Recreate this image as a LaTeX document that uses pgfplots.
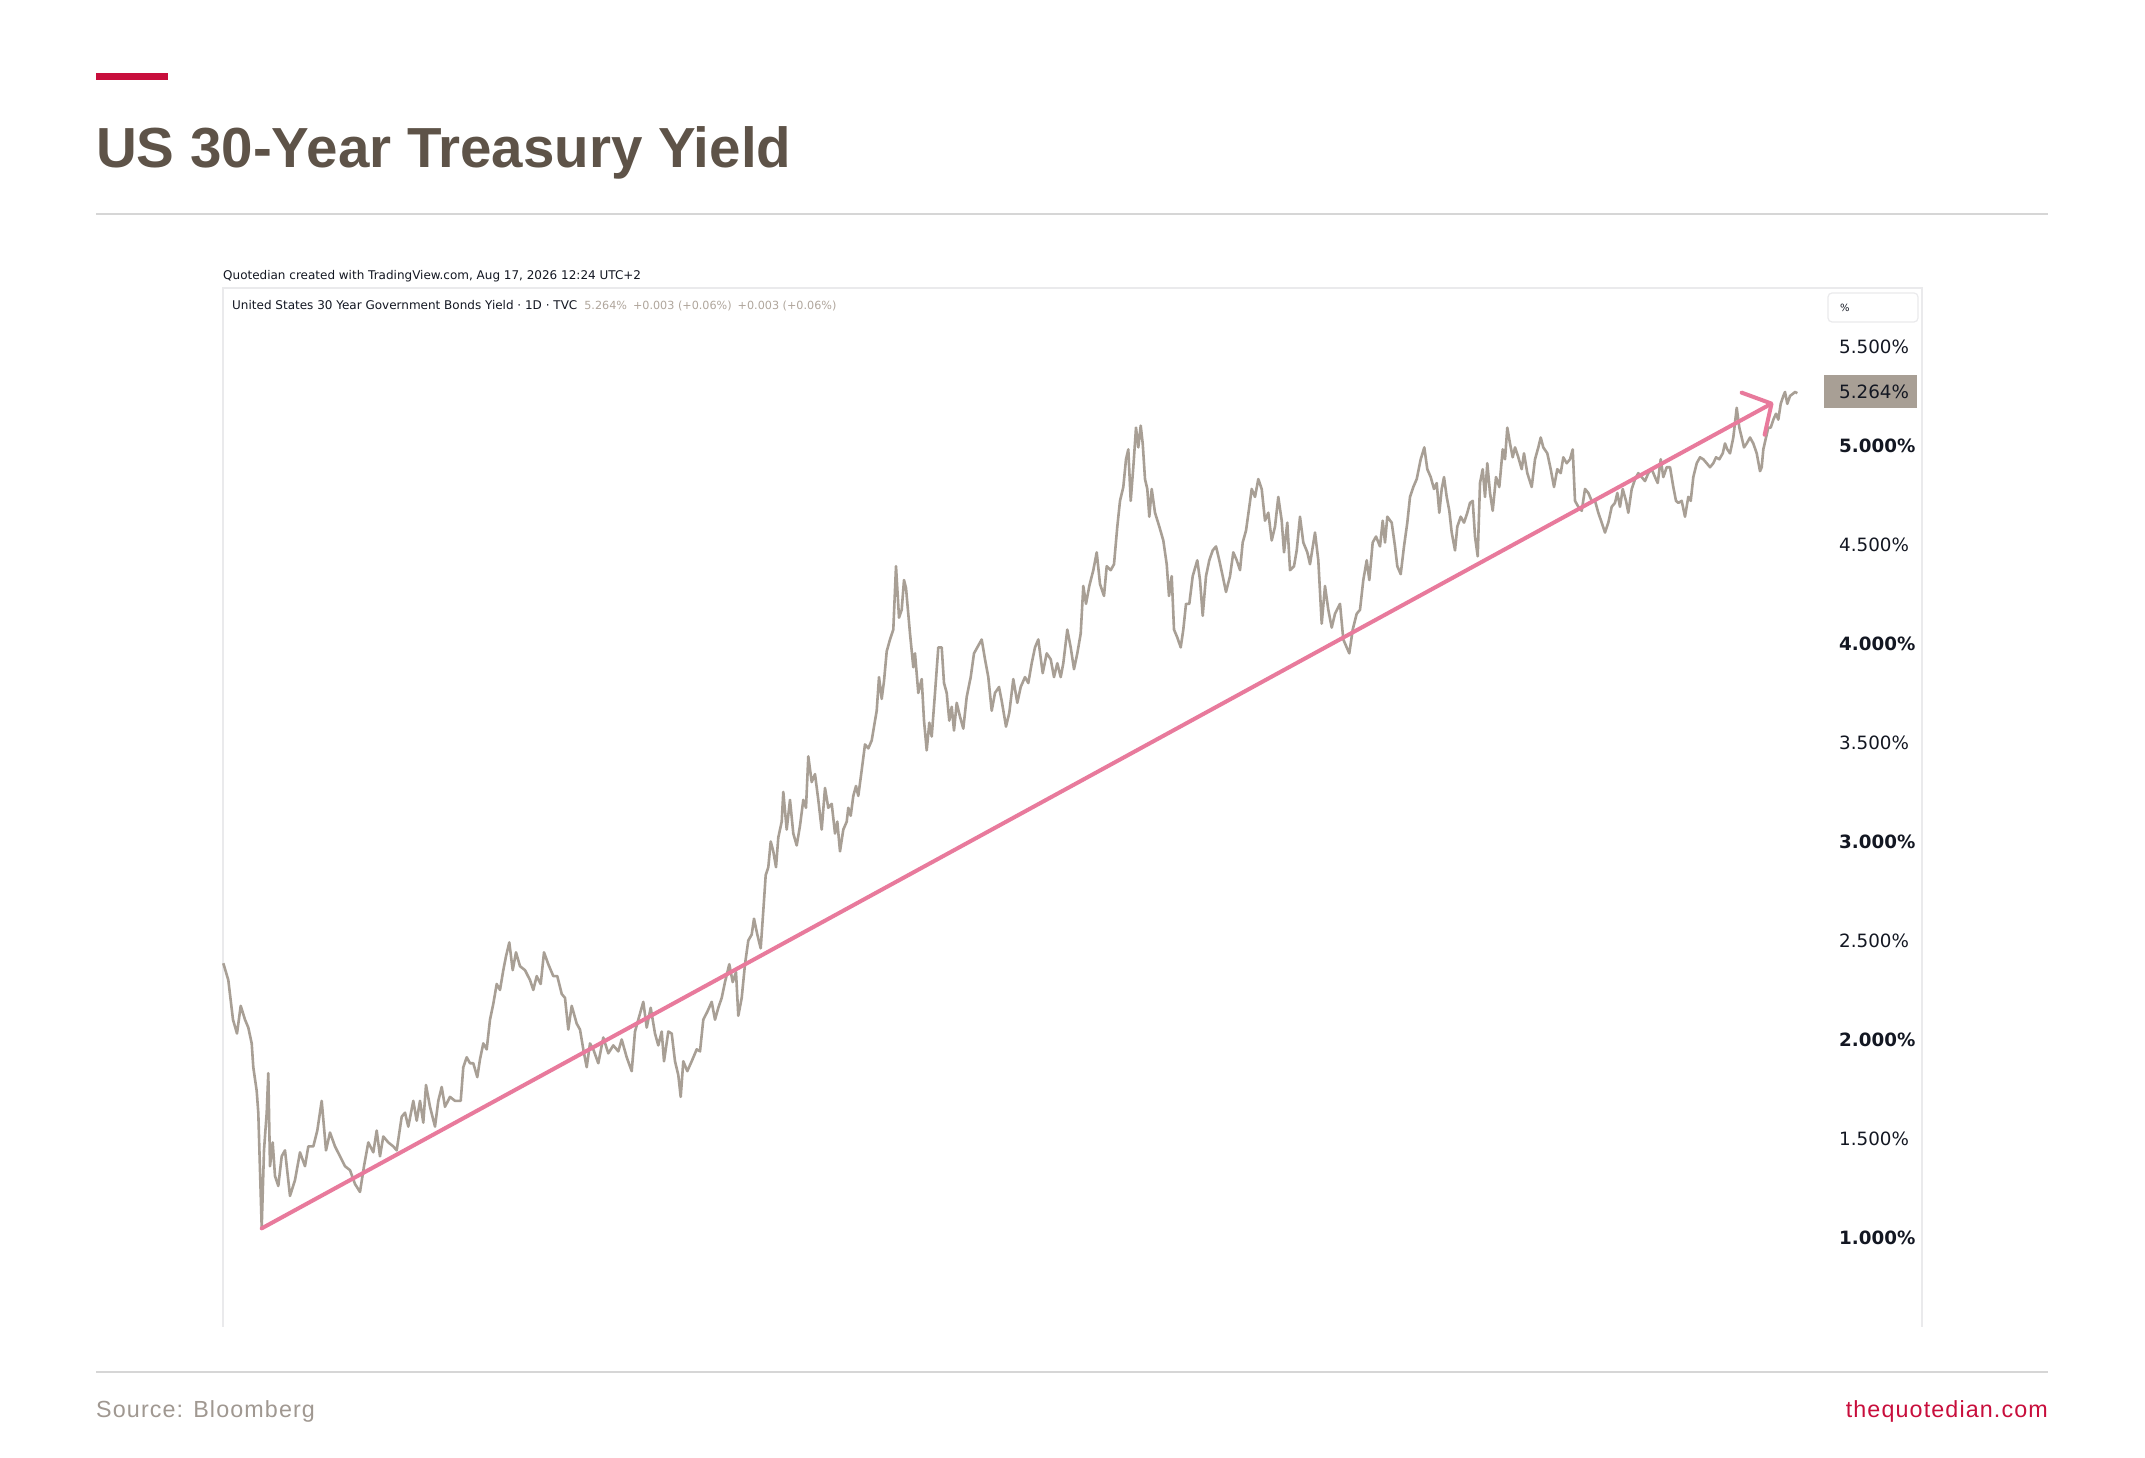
\documentclass[border=0pt]{standalone}
\usepackage{fontspec}
\setmainfont{DejaVu Sans}
\newfontfamily\libsans{Liberation Sans}
\newfontfamily\libsansls{Liberation Sans}[LetterSpace=4.8]
\usepackage{pgfplots}
\usepackage{pgfplotstable}
\pgfplotsset{compat=1.18}
\usetikzlibrary{arrows.meta}
\definecolor{pricec}{RGB}{168,159,149}
\definecolor{trendc}{RGB}{232,122,156}
\definecolor{titlec}{RGB}{94,83,72}
\definecolor{crimson}{RGB}{200,14,60}
\definecolor{rulec}{RGB}{214,214,214}
\definecolor{framec}{RGB}{234,234,236}
\definecolor{tvtext}{RGB}{19,23,34}
\definecolor{srcc}{RGB}{160,152,145}
\definecolor{valc}{RGB}{176,166,156}

\pgfplotstableread{
x y
223.3 2.385
228.3 2.30
233 2.10
237 2.03
240.7 2.17
245 2.10
248.3 2.06
251.7 1.98
253.3 1.86
256.7 1.74
258.3 1.63
261.7 1.05
264 1.44
266.7 1.63
268.3 1.83
270 1.36
272.7 1.48
275 1.31
278.3 1.26
281.7 1.41
285 1.44
290 1.21
295 1.29
300 1.43
305 1.36
308.3 1.46
313.3 1.46
317.3 1.54
321.7 1.69
326 1.44
330 1.53
335 1.46
340 1.41
345 1.36
350 1.34
355 1.27
360 1.23
364 1.36
368.3 1.48
373.3 1.43
376.7 1.54
380 1.41
383.3 1.51
388.3 1.48
393.3 1.46
396.7 1.44
401.7 1.61
405 1.63
408.3 1.56
413.3 1.69
416.7 1.59
420 1.69
423.3 1.58
426 1.77
430 1.66
435 1.56
438.3 1.69
441.7 1.76
445 1.66
450 1.71
455 1.69
460.7 1.69
463.3 1.86
466.7 1.91
470 1.88
473.3 1.88
477.3 1.81
480 1.90
483.3 1.98
486.7 1.95
490 2.10
493.3 2.18
496.7 2.28
500 2.25
503.3 2.35
506 2.42
509.3 2.49
512.7 2.35
516 2.44
520 2.37
525 2.35
530 2.30
533.3 2.25
536.7 2.32
540.7 2.28
544 2.44
548.3 2.38
553.3 2.32
557.3 2.32
561.7 2.23
565 2.21
568.3 2.05
571.7 2.17
576.7 2.08
580 2.05
583.3 1.95
586.7 1.86
590 1.98
593.3 1.95
598.3 1.88
603.3 2.01
608.3 1.93
613.3 1.97
618.3 1.94
621.7 2.00
626.7 1.91
631.7 1.84
635 2.04
638.3 2.10
643.3 2.19
646.7 2.06
650.7 2.16
655 2.03
658.3 1.97
661.7 2.04
664 1.89
668.3 2.04
671.7 2.03
675 1.89
678.3 1.82
680.7 1.71
683.3 1.89
687.3 1.84
691.7 1.89
696.7 1.95
700 1.94
703.3 2.10
707.3 2.14
711.7 2.19
715 2.10
718.3 2.16
721.7 2.21
725 2.29
729.3 2.38
732.7 2.29
736 2.34
738.3 2.12
741.7 2.21
745 2.38
748.3 2.50
751.7 2.53
754 2.61
757.3 2.53
760.7 2.46
763.3 2.65
765.7 2.83
768.3 2.87
770.7 3.00
773.3 2.95
776 2.87
778.3 3.02
781.7 3.10
783.3 3.25
786.7 3.06
790 3.21
793.3 3.04
796.7 2.98
800 3.08
803.3 3.21
806 3.17
808.3 3.43
811.7 3.30
815 3.34
818.3 3.21
821.7 3.06
825 3.27
828.3 3.17
831.7 3.19
835 3.04
837.3 3.10
840 2.95
843.3 3.06
846.7 3.10
848.3 3.17
850.7 3.13
853.3 3.23
856 3.28
858.3 3.23
861.7 3.36
865 3.49
868.3 3.47
871.7 3.51
874 3.58
876.7 3.66
879 3.83
881.7 3.72
884 3.81
886.7 3.96
890 4.02
893.3 4.07
896 4.39
899 4.13
901.7 4.17
904 4.32
906 4.28
910 4.05
913.3 3.88
915 3.95
918.3 3.75
921.7 3.82
924 3.61
926.7 3.46
929.3 3.60
931.7 3.53
935 3.75
938.3 3.98
941.7 3.98
944 3.80
946.7 3.75
949.3 3.61
951.7 3.68
954 3.56
956.7 3.70
960 3.63
963.3 3.57
966.7 3.73
970.7 3.83
974 3.95
977.3 3.98
981.7 4.02
985 3.92
988.3 3.83
991.7 3.66
995 3.75
999 3.78
1001.7 3.71
1006 3.58
1009.3 3.65
1013.3 3.82
1017.3 3.70
1020.7 3.78
1025 3.83
1028.3 3.80
1031.7 3.90
1035 3.98
1038.3 4.02
1042.7 3.85
1046.7 3.95
1050.7 3.92
1054 3.83
1057.3 3.90
1060.7 3.83
1063.3 3.90
1067.3 4.07
1070.7 3.98
1074 3.87
1077.3 3.95
1080.7 4.05
1083.3 4.29
1086 4.20
1089.3 4.29
1093.3 4.37
1096.7 4.46
1100 4.30
1104 4.24
1106.7 4.39
1110.7 4.37
1114 4.40
1117.3 4.59
1120 4.72
1123.3 4.79
1126 4.93
1128.3 4.98
1130.7 4.72
1133.3 4.89
1136 5.09
1138.3 4.99
1140.7 5.10
1142.7 5.01
1145 4.83
1147.3 4.78
1149.3 4.64
1151.7 4.78
1155 4.66
1159.3 4.59
1163.3 4.52
1166.7 4.40
1169 4.24
1171.7 4.34
1174 4.07
1177.3 4.03
1180.7 3.98
1183.3 4.07
1186 4.20
1189.3 4.20
1192.7 4.34
1197.3 4.42
1200 4.32
1202.7 4.14
1206 4.34
1209.3 4.42
1212.7 4.47
1216 4.49
1219.3 4.42
1222.7 4.34
1226 4.26
1230 4.34
1233.3 4.46
1236.7 4.42
1240 4.37
1242.7 4.51
1246 4.57
1249.3 4.69
1251.7 4.78
1255 4.74
1258.3 4.83
1261.7 4.78
1265 4.62
1268.3 4.66
1271.7 4.52
1275 4.59
1278.3 4.74
1281.7 4.62
1284 4.46
1287.3 4.61
1290 4.37
1294 4.39
1296.7 4.47
1300 4.64
1303.3 4.51
1307.3 4.46
1310 4.40
1315 4.56
1318.3 4.42
1321.7 4.10
1325 4.29
1328.3 4.17
1331.7 4.08
1335 4.15
1340 4.20
1343.3 4.02
1346.7 3.98
1349.3 3.95
1352.7 4.07
1356.7 4.15
1360 4.17
1363.3 4.32
1366.7 4.42
1369.3 4.32
1372.7 4.51
1376 4.54
1380 4.49
1382.7 4.62
1385 4.51
1387.3 4.64
1391.7 4.61
1395 4.49
1397.3 4.39
1400.7 4.35
1404 4.49
1407.3 4.61
1410 4.74
1413.3 4.79
1416.7 4.83
1420.7 4.93
1424.3 4.99
1427.3 4.88
1430.7 4.84
1434 4.78
1436.7 4.81
1439.3 4.66
1441.7 4.78
1444 4.84
1446.7 4.74
1449.3 4.67
1451.7 4.56
1455 4.47
1457.3 4.59
1460.7 4.64
1464 4.61
1467.3 4.66
1470 4.71
1472.7 4.72
1475 4.54
1477.7 4.44
1480 4.81
1482.7 4.88
1485 4.74
1487.3 4.91
1490 4.76
1492.7 4.67
1496 4.84
1499.3 4.79
1502.7 4.98
1505 4.93
1507.3 5.09
1510 5.01
1512.7 4.94
1515 4.99
1518.3 4.94
1521.7 4.88
1524 4.96
1527.3 4.86
1531.7 4.79
1535 4.93
1538.3 4.99
1540.7 5.04
1543.3 4.99
1547.3 4.96
1550.7 4.88
1554 4.79
1557.3 4.88
1560.7 4.86
1563.3 4.94
1566.7 4.91
1570 4.93
1572.7 4.98
1575 4.72
1578.3 4.69
1581.7 4.67
1585 4.78
1588.3 4.76
1591.7 4.72
1595 4.72
1598.3 4.66
1601.7 4.61
1605 4.56
1608.3 4.61
1611.7 4.69
1615 4.71
1617.3 4.76
1620 4.69
1622.7 4.78
1626 4.72
1628.3 4.66
1631.7 4.78
1635 4.83
1638.3 4.86
1641.7 4.84
1645 4.82
1648.3 4.86
1651.7 4.88
1655 4.84
1657.7 4.81
1660.7 4.93
1663.3 4.84
1666.7 4.89
1670 4.89
1673.3 4.79
1676 4.72
1678.3 4.71
1681.7 4.72
1685 4.64
1688.3 4.74
1690.7 4.72
1693.3 4.84
1696.7 4.91
1700 4.94
1703.3 4.93
1706.7 4.91
1710 4.89
1713.3 4.91
1716 4.94
1719.3 4.93
1722.7 4.96
1725 5.01
1727.3 4.98
1730 4.96
1733.3 5.04
1736.7 5.19
1739.3 5.09
1741.7 5.04
1744 4.99
1746.7 5.01
1750 5.04
1753.3 5.01
1756.7 4.96
1760 4.87
1761.7 4.89
1763.3 4.98
1766 5.04
1768.3 5.09
1770.7 5.09
1773.3 5.13
1776 5.16
1778.3 5.13
1780.7 5.21
1783.3 5.25
1785 5.27
1787.3 5.21
1790 5.25
1792.7 5.26
1795 5.27
1797.3 5.264
}\pricedata

\begin{document}
\begin{tikzpicture}[x=1pt,y=1pt]
\fill[white] (0,0) rectangle (2145,1458);
% header decoration
\fill[crimson] (96,1378) rectangle (168,1385);
\node[anchor=base west, inner sep=0pt, text=titlec, font=\libsans\bfseries\fontsize{56.5}{60}\selectfont] at (96,1290) {US 30-Year Treasury Yield};
\draw[rulec, line width=1.6pt] (96,1244) -- (2048,1244);
% screenshot header
\node[anchor=base west, inner sep=0pt, text=tvtext, font=\fontsize{12}{14}\selectfont] at (223,1178) {Quotedian created with TradingView.com, Aug 17, 2026 12:24 UTC+2};
% frame
\draw[framec, line width=1.5pt] (223,131) -- (223,1170) -- (1922,1170) -- (1922,131);
\node[anchor=base west, inner sep=0pt, text=tvtext, font=\fontsize{12}{14}\selectfont] at (232,1148) {United States 30 Year Government Bonds Yield · 1D · TVC\hspace{7pt}\textcolor{valc}{\fontsize{11.2}{13}\selectfont 5.264\%\hspace{6pt}+0.003 (+0.06\%)\hspace{6pt}+0.003 (+0.06\%)}};
% percent box
\draw[framec, line width=1.2pt, rounded corners=4pt] (1828,1136) rectangle (1918,1165);
\node[anchor=west, inner sep=0pt, text=tvtext, font=\fontsize{10}{12}\selectfont] at (1840,1150) {\%};
\begin{axis}[
  at={(223pt,131pt)}, anchor=south west,
  width=1699pt, height=1040pt, scale only axis,
  xmin=223, xmax=1922, ymin=0.548, ymax=5.8,
  axis line style={draw=none},
  xtick=\empty,
  ytick={1,1.5,2,2.5,3,3.5,4,4.5,5,5.5},
  yticklabels={\textbf{1.000\%},1.500\%,\textbf{2.000\%},2.500\%,\textbf{3.000\%},3.500\%,\textbf{4.000\%},4.500\%,\textbf{5.000\%},5.500\%},
  yticklabel pos=right,
  major tick length=0pt,
  yticklabel style={anchor=west, xshift=-83pt, inner sep=0pt, text=tvtext, font=\fontsize{18.3}{20}\selectfont},
  clip=false,
]
\addplot[color=pricec, line width=2.6pt, line join=round, no markers] table[x=x,y=y] {\pricedata};
\addplot[color=trendc, line width=4pt, line cap=round, no markers, -{Straight Barb[length=21pt,width=48pt,round]}] coordinates {(261.7,1.046) (1773.3,5.216)};
\end{axis}
% last price badge
\fill[pricec] (1824,1050) rectangle (1917,1083);
\node[anchor=west, inner sep=0pt, text=tvtext, font=\fontsize{18.3}{20}\selectfont] at (1839,1066.5) {5.264\%};
% footer
\draw[rulec, line width=1.6pt] (96,86) -- (2048,86);
\node[anchor=base west, inner sep=0pt, text=srcc, font=\libsansls\fontsize{23.3}{26}\selectfont] at (96,40) {Source: Bloomberg};
\node[anchor=base east, inner sep=0pt, text=crimson, font=\libsansls\fontsize{23.3}{26}\selectfont] at (2048,40) {thequotedian.com};
\end{tikzpicture}
\end{document}
